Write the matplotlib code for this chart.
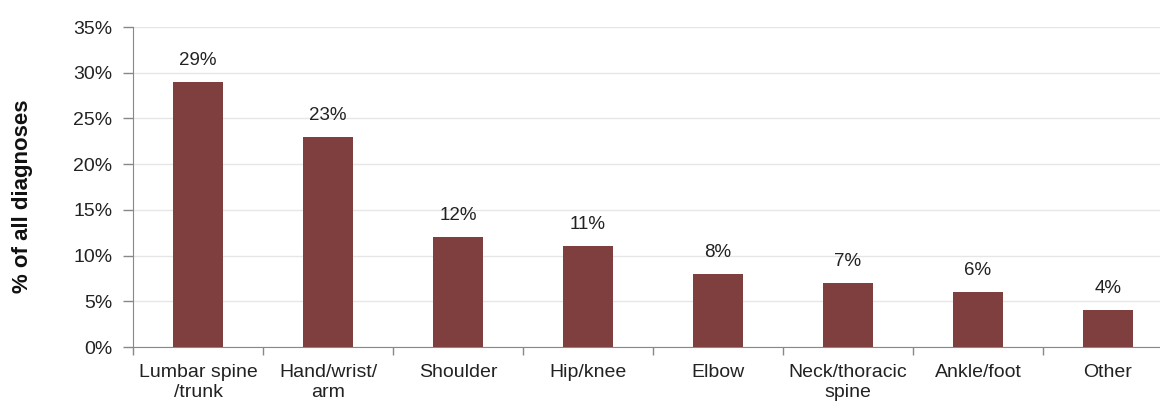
import matplotlib
matplotlib.use("Agg")
import matplotlib.pyplot as plt
import numpy as np

categories = ["Lumbar spine\n/trunk", "Hand/wrist/\narm", "Shoulder", "Hip/knee",
              "Elbow", "Neck/thoracic\nspine", "Ankle/foot", "Other"]
values = [29, 23, 12, 11, 8, 7, 6, 4]
y_ticks = [0, 5, 10, 15, 20, 25, 30, 35]

plt.rcParams["font.family"] = ["Liberation Sans", "DejaVu Sans"]

fig = plt.figure(figsize=(11.6, 4.03), dpi=100)
ax = fig.add_axes([133 / 1160, 56 / 403, 1040 / 1160, 320 / 403])

x = np.arange(len(categories))
bar_color = "#7F3F3F"
ax.bar(x, values, width=0.39, color=bar_color, zorder=3)

for xi, v in zip(x, values):
    ax.annotate(f"{v}%", (xi, v), xytext=(0, 9.5), textcoords="offset points",
                ha="center", va="bottom", fontsize=13.5, color="#222222")

ax.set_xlim(-0.5, len(categories) - 0.5)
ax.set_ylim(0, 35)
ax.set_yticks(y_ticks)
ax.set_yticklabels([f"{t}%" for t in y_ticks], fontsize=14, color="#222222")
ax.yaxis.grid(True, color="#e6e6e6", linewidth=1, zorder=0)

# category labels centred on bars, tick marks at category boundaries
ax.set_xticks(x)
ax.set_xticklabels(categories, fontsize=14, color="#222222", linespacing=1.25)
ax.tick_params(axis="x", length=0, pad=12)
ax.set_xticks(np.arange(len(categories) + 1) - 0.5, minor=True)
ax.tick_params(axis="x", which="minor", length=6, color="#888888", width=1)
ax.tick_params(axis="y", length=7, color="#888888", width=1, pad=8)

for side in ["top", "right"]:
    ax.spines[side].set_visible(False)
ax.spines["left"].set_color("#888888")
ax.spines["bottom"].set_color("#888888")

ax.set_ylabel("% of all diagnoses", fontsize=16, fontweight="bold", color="#111111")
ax.yaxis.set_label_coords(-100 / 1040, 0.47)

fig.savefig("out.png", dpi=100)
